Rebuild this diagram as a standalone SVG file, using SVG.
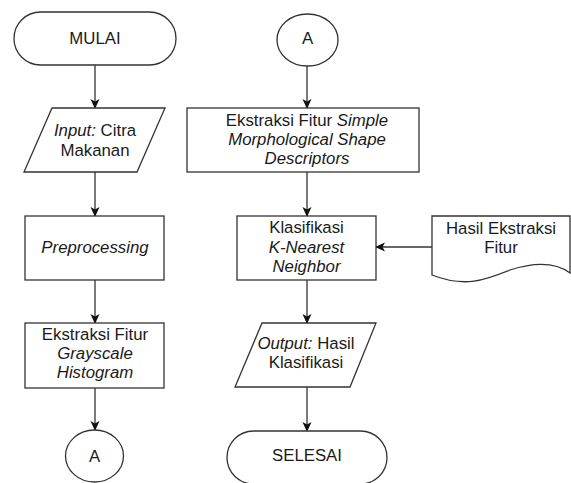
<svg xmlns="http://www.w3.org/2000/svg" width="571" height="483" viewBox="0 0 571 483">
<style>
.s{fill:#fff;stroke:#333;stroke-width:1.3}
.c{fill:none;stroke:#333;stroke-width:1.3}
text{font-family:"Liberation Sans",Arial,sans-serif;font-size:16.8px;fill:#1a1a1a;text-anchor:middle}
.i{font-style:italic}
</style>
<defs>
<marker id="ar" markerUnits="userSpaceOnUse" markerWidth="10" markerHeight="10" viewBox="0 0 10 10" refX="9" refY="5" orient="auto">
<path d="M0,0.5 L10,5 L0,9.5 L2.5,5 z" fill="#111"/>
</marker>
</defs>
<rect width="571" height="483" fill="#fff"/>
<g id="connectors">
<line class="c" x1="95" y1="65" x2="95" y2="108" marker-end="url(#ar)"/>
<line class="c" x1="95" y1="172" x2="95" y2="216" marker-end="url(#ar)"/>
<line class="c" x1="95" y1="280" x2="95" y2="323" marker-end="url(#ar)"/>
<line class="c" x1="95" y1="388" x2="95" y2="430" marker-end="url(#ar)"/>
<line class="c" x1="307" y1="66" x2="307" y2="108" marker-end="url(#ar)"/>
<line class="c" x1="307" y1="172" x2="307" y2="216" marker-end="url(#ar)"/>
<line class="c" x1="307" y1="280" x2="307" y2="323" marker-end="url(#ar)"/>
<line class="c" x1="307" y1="387" x2="307" y2="431" marker-end="url(#ar)"/>
<line class="c" x1="432" y1="247" x2="376" y2="247" marker-end="url(#ar)"/>
</g>
<g id="mulai">
<rect class="s" x="14" y="12" width="162" height="53" rx="26.5"/>
<text x="95" y="44">MULAI</text>
</g>
<g id="input">
<polygon class="s" points="52,108 165,108 137,172 24,172"/>
<text x="95" y="136"><tspan class="i">Input:</tspan> Citra</text>
<text x="95" y="155.5">Makanan</text>
</g>
<g id="preprocessing">
<rect class="s" x="25" y="216" width="139" height="64"/>
<text x="95" y="253" class="i">Preprocessing</text>
</g>
<g id="ekstraksi-grayscale">
<rect class="s" x="25" y="323" width="139" height="65"/>
<text x="95" y="340">Ekstraksi Fitur</text>
<text x="95" y="359" class="i">Grayscale</text>
<text x="95" y="378" class="i">Histogram</text>
</g>
<g id="a-bottom">
<ellipse class="s" cx="94.5" cy="456" rx="29" ry="26"/>
<text x="94.5" y="462">A</text>
</g>
<g id="a-top">
<ellipse class="s" cx="307.5" cy="40" rx="30.5" ry="26"/>
<text x="307.5" y="44">A</text>
</g>
<g id="ekstraksi-smsd">
<rect class="s" x="187" y="108" width="232" height="64"/>
<text x="307" y="126">Ekstraksi Fitur <tspan class="i">Simple</tspan></text>
<text x="307" y="145" class="i">Morphological Shape</text>
<text x="307" y="164" class="i">Descriptors</text>
</g>
<g id="klasifikasi">
<rect class="s" x="237" y="216" width="139" height="64"/>
<text x="306.5" y="233">Klasifikasi</text>
<text x="306.5" y="252.5" class="i">K-Nearest</text>
<text x="306.5" y="271.5" class="i">Neighbor</text>
</g>
<g id="hasil-ekstraksi">
<path class="s" d="M432,216 L570,216 L570,273 C555,262 535,262 510,270 C485,280 465,288 432,275 Z"/>
<text x="501" y="234">Hasil Ekstraksi</text>
<text x="501" y="253">Fitur</text>
</g>
<g id="output">
<polygon class="s" points="262,323 376,323 350,387 235,387"/>
<text x="306" y="349"><tspan class="i">Output:</tspan> Hasil</text>
<text x="306" y="368">Klasifikasi</text>
</g>
<g id="selesai">
<rect class="s" x="227" y="431" width="160" height="53" rx="26.5"/>
<text x="307" y="461">SELESAI</text>
</g>
</svg>
